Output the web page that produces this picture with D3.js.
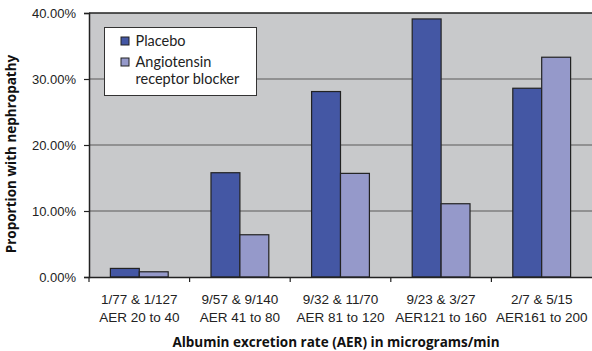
<!DOCTYPE html>
<html>
<head>
<meta charset="utf-8">
<style>
  body { margin: 0; background: #fff; }
  svg { display: block; font-family: "Lato", "Open Sans", sans-serif; }
  .tick text { font-size: 13px; fill: #222; }
  .title { font-family: "Open Sans", sans-serif; font-weight: 700; font-size: 13.5px; fill: #111; }
</style>
</head>
<body>
<div id="chart"></div>
<script src="https://cdn.jsdelivr.net/npm/d3@7"></script>
<script>
// data
const groups = ["1/77 & 1/127|AER 20 to 40", "9/57 & 9/140|AER 41 to 80", "9/32 & 11/70|AER 81 to 120",
                "9/23 & 3/27|AER121 to 160", "2/7 & 5/15|AER161 to 200"];
const seriesNames = ["Placebo", "Angiotensin receptor blocker"];
const placebo = [0.013, 0.158, 0.281, 0.391, 0.286];
const arb = [0.0079, 0.064, 0.157, 0.111, 0.333];
const yTicks = [0, 0.1, 0.2, 0.3, 0.4];
const colors = ["#4457a4", "#9599ca"];

const W = 592, H = 351;
const margin = { top: 13, right: 0, bottom: 74, left: 89 };
const width = W - margin.left - margin.right;
const height = H - margin.top - margin.bottom;

const svg = d3.select("#chart").append("svg").attr("width", W).attr("height", H);
const g = svg.append("g").attr("transform", `translate(${margin.left},${margin.top})`);

const x = d3.scaleBand().domain(groups).range([0, width]).paddingInner(0).paddingOuter(0);
const x1 = d3.scaleBand().domain([0, 1]).range([0, x.bandwidth()]).paddingOuter(0.74).paddingInner(0);
const y = d3.scaleLinear().domain([0, 0.4]).range([height, 0]);

g.append("rect").attr("width", width).attr("height", height).attr("fill", "#c8c9cb");

// gridlines
g.selectAll(".grid").data(yTicks.slice(1, -1)).join("line")
  .attr("x1", 0).attr("x2", width)
  .attr("y1", d => y(d)).attr("y2", d => y(d))
  .attr("stroke", "#5a5a5a").attr("stroke-width", 1.2);
g.append("line").attr("x1", 0).attr("x2", width).attr("y1", 0).attr("y2", 0)
  .attr("stroke", "#222").attr("stroke-width", 1.5);

// bars
const rows = groups.map((c, i) => ({ c, vals: [placebo[i], arb[i]] }));
const grp = g.selectAll(".grp").data(rows).join("g")
  .attr("transform", d => `translate(${x(d.c)},0)`);
grp.selectAll("rect").data(d => d.vals.map((v, k) => ({ v, k }))).join("rect")
  .attr("x", d => x1(d.k)).attr("width", x1.bandwidth())
  .attr("y", d => y(d.v)).attr("height", d => height - y(d.v))
  .attr("fill", d => colors[d.k]).attr("stroke", "#222").attr("stroke-width", 1.2);

// y axis
const yAxis = g.append("g")
  .call(d3.axisLeft(y).tickValues(yTicks).tickFormat(d => (d * 100).toFixed(2) + "%").tickSize(5).tickPadding(8));
yAxis.select(".domain").attr("stroke", "#222").attr("stroke-width", 1.5);
yAxis.selectAll(".tick line").attr("stroke", "#222").attr("stroke-width", 1.2);

// x axis
const xAxis = g.append("g").attr("transform", `translate(0,${height})`)
  .call(d3.axisBottom(x).tickSize(0).tickFormat(""));
xAxis.select(".domain").attr("stroke", "#222").attr("stroke-width", 1.5);
xAxis.selectAll(".sep").data(groups).join("line").attr("class", "sep")
  .attr("x1", d => x(d)).attr("x2", d => x(d)).attr("y1", 0).attr("y2", 5)
  .attr("stroke", "#222").attr("stroke-width", 1.2);
const lbl = xAxis.selectAll(".lbl").data(groups).join("text").attr("class", "lbl")
  .attr("x", d => x(d) + x.bandwidth() / 2).attr("text-anchor", "middle")
  .attr("font-size", 13.5).attr("fill", "#222");
lbl.append("tspan").attr("x", d => x(d) + x.bandwidth() / 2).attr("y", 27).text(d => d.split("|")[0]);
lbl.append("tspan").attr("x", d => x(d) + x.bandwidth() / 2).attr("y", 45).text(d => d.split("|")[1]);

// axis titles
svg.append("text").attr("class", "title").attr("x", 336).attr("y", 347)
  .attr("text-anchor", "middle")
  .text("Albumin excretion rate (AER) in micrograms/min");
svg.append("text").attr("class", "title").attr("transform", "translate(16,154) rotate(-90)")
  .attr("text-anchor", "middle")
  .text("Proportion with nephropathy");

// legend
const lg = svg.append("g").attr("transform", "translate(104.5,27.5)");
lg.append("rect").attr("width", 152).attr("height", 68).attr("fill", "#fff").attr("stroke", "#333").attr("stroke-width", 1);
const items = [
  { lines: ["Placebo"], y: 18 },
  { lines: ["Angiotensin", "receptor blocker"], y: 39 }
];
items.forEach((it, i) => {
  lg.append("rect").attr("x", 16.5).attr("y", it.y - 8.5).attr("width", 8).attr("height", 8)
    .attr("fill", colors[i]).attr("stroke", "#222");
  it.lines.forEach((t, j) => {
    lg.append("text").attr("x", 31).attr("y", it.y + j * 17).attr("font-size", 14.5).attr("fill", "#222").text(t);
  });
});
</script>
</body>
</html>
